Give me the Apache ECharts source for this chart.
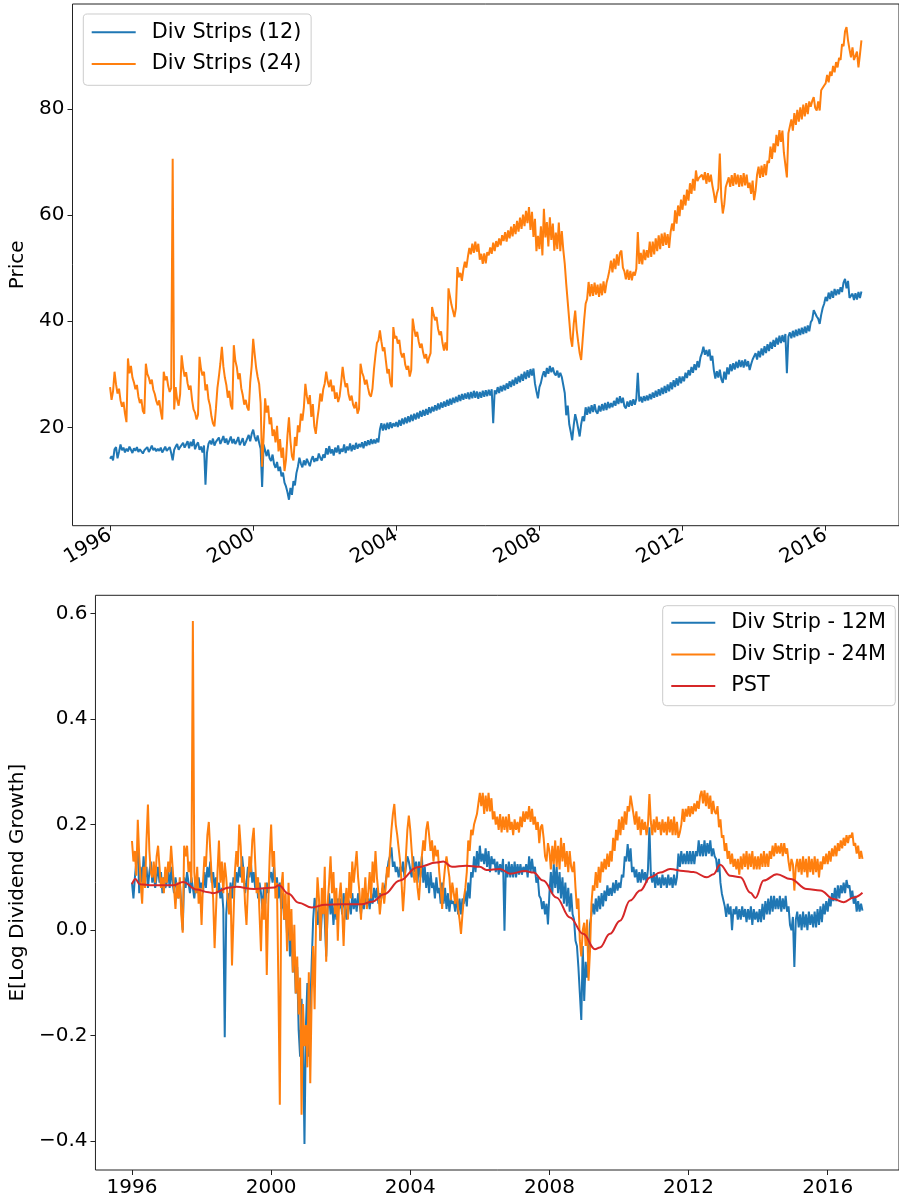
<!DOCTYPE html>
<html>
<head>
<meta charset="utf-8">
<script src="https://cdn.jsdelivr.net/npm/echarts@6/dist/echarts.min.js"></script>
<style>
html,body{margin:0;padding:0;background:#fff;}
#chart{width:899px;height:1203px;}
</style>
</head>
<body>
<div id="chart"></div>
<script>
// ---- DATA (semi-monthly readings, one row per calendar year starting 1996) ----
const startYear = 1996;
const yearTicks = [1996, 2000, 2004, 2008, 2012, 2016];
const priceTicks = [20, 40, 60, 80];
const growthTicks = [-0.4, -0.2, 0.0, 0.2, 0.4, 0.6];

const priceStrip12 = [
[14.1,14.6,13.8,15.9,16.3,14.2,15.4,16.8,15.7,16.2,15.3,16.0,15.5,16.4,15.8,15.2,16.1,15.6,16.3,15.4,15.9,16.2,15.1,15.7],
[15.8,16.3,15.4,15.9,16.6,15.7,16.1,15.5,16.0,15.6,16.2,15.3,15.8,16.4,15.6,15.9,16.3,15.2,13.8,15.8,16.4,16.9,15.8,16.3],
[16.5,17.1,16.2,16.8,17.4,16.1,17.3,16.5,17.8,15.9,16.7,17.2,15.8,16.4,15.3,16.6,9.2,15.2,16.9,17.5,16.8,17.9,16.6,17.3],
[17.2,18.1,16.9,17.6,18.4,17.1,17.9,16.8,17.5,18.3,17.0,17.8,16.9,17.4,18.2,16.7,17.3,18.0,16.6,17.2,17.9,18.6,17.4,18.8],
[19.6,18.2,17.4,18.5,17.1,16.0,8.8,16.8,15.7,14.6,15.8,14.2,13.7,14.9,13.1,12.4,13.5,11.8,12.6,10.8,11.5,9.6,8.9,7.8],
[6.4,8.6,7.3,9.9,9.1,11.4,12.6,14.3,13.2,12.5,13.8,12.9,14.1,13.4,12.7,13.9,14.6,13.5,14.2,13.7,15.1,14.3,13.8,14.9],
[14.3,16.1,14.9,16.5,15.1,15.9,14.7,16.2,15.3,16.6,15.0,16.0,15.4,16.8,15.2,16.4,15.7,17.0,15.5,16.7,15.8,17.1,16.0,16.9],
[16.3,17.2,16.1,17.4,16.5,17.6,16.7,17.8,16.9,17.7,17.0,17.9,17.2,19.6,20.8,19.4,20.7,19.5,20.9,19.7,21.0,19.9,20.8,20.2],
[21.0,20.1,21.4,20.3,21.7,20.6,21.9,20.8,22.1,21.0,22.4,21.2,22.6,21.5,22.8,21.7,23.1,22.0,23.3,22.2,23.5,22.4,23.8,22.7],
[23.9,23.0,24.2,23.2,24.5,23.4,24.7,23.7,24.9,23.9,25.2,24.1,25.4,24.3,25.6,24.6,25.8,24.8,26.1,25.0,26.3,25.2,26.4,25.4],
[26.6,25.3,26.7,25.5,26.9,25.6,26.8,25.4,26.7,25.6,26.9,25.8,27.0,25.9,27.1,26.0,27.2,20.8,27.0,26.3,27.6,26.5,27.8,26.8],
[28.0,27.0,28.3,27.3,28.7,27.6,29.0,27.9,29.4,28.2,29.7,28.5,30.1,28.8,30.5,29.1,30.8,29.4,31.0,29.8,31.1,28.3,26.8,25.5],
[27.6,28.4,29.7,30.6,29.5,31.2,30.1,31.6,30.4,31.3,30.2,29.8,30.7,29.4,30.3,29.5,29.8,26.5,22.3,24.1,20.6,19.2,17.6,20.4],
[22.5,21.3,19.8,18.3,20.6,22.1,21.2,23.8,22.4,23.9,22.6,24.2,22.9,24.4,23.0,22.6,24.1,23.0,24.4,23.2,24.6,23.3,24.8,23.6],
[24.6,23.8,25.0,24.1,25.6,24.4,25.9,24.6,25.6,24.0,23.6,24.9,23.9,25.1,24.1,25.3,24.3,25.4,30.3,24.9,25.8,24.7,25.9,25.0],
[26.0,25.1,26.3,25.3,26.6,25.6,26.9,25.8,27.2,26.0,27.5,26.3,27.8,26.5,28.1,26.8,28.5,27.2,28.9,27.6,29.3,27.9,29.6,28.3],
[29.6,28.7,30.3,29.3,30.8,29.8,31.4,30.3,31.9,30.8,32.5,31.3,33.2,34.0,35.2,33.7,34.6,33.4,34.7,32.6,33.5,30.8,29.2,30.6],
[29.4,30.9,29.1,28.4,30.5,29.0,31.3,30.0,31.9,30.6,32.1,30.9,32.4,31.2,32.7,31.4,32.6,31.3,32.8,31.5,32.5,30.8,31.9,32.8],
[32.5,34.0,32.8,34.4,33.2,34.9,33.6,35.3,34.0,35.7,34.4,36.1,34.8,36.5,35.2,36.9,35.6,37.3,35.9,37.4,36.1,37.6,30.2,37.1],
[37.9,36.8,38.2,37.0,38.4,37.2,38.6,37.4,38.8,37.6,39.0,37.8,39.2,38.1,39.8,40.3,42.1,42.4,40.9,40.5,39.5,41.2,42.5,43.3],
[44.6,43.8,45.4,44.2,45.7,44.4,46.1,44.9,46.0,45.1,46.4,45.5,47.3,48.0,46.2,47.6,44.4,44.2,45.2,44.0,45.3,44.1,45.5,44.4],
[45.6]
];

const priceStrip24 = [
[27.6,25.2,26.8,30.5,28.1,26.4,27.3,25.1,23.9,24.8,22.6,21.0,33.0,30.2,31.6,29.4,28.5,27.2,28.0,25.8,24.6,25.3,23.1,22.6],
[32.0,30.1,29.4,28.2,29.0,27.1,26.3,25.0,24.2,25.1,23.0,21.5,30.5,28.9,29.6,27.8,26.7,27.4,70.6,23.4,27.6,25.2,24.1,26.3],
[33.6,31.2,29.6,30.4,28.3,27.1,27.9,25.2,23.4,22.8,21.5,22.4,33.3,31.0,29.8,30.5,27.0,28.1,25.3,24.2,22.1,20.8,20.2,23.5],
[27.4,29.6,32.1,35.2,31.5,29.4,28.0,25.6,26.9,24.2,23.4,35.5,32.6,31.4,29.1,30.2,27.4,26.1,24.3,25.2,23.8,23.2,28.5,31.6],
[36.7,33.8,31.2,29.5,28.2,24.6,12.6,18.2,25.5,22.8,24.1,20.6,21.9,18.4,19.6,17.2,20.3,15.5,17.8,14.3,16.2,11.8,13.9,18.5],
[21.9,17.4,14.6,13.8,18.2,16.5,20.4,19.1,22.6,21.3,23.8,28.2,25.9,24.4,26.1,22.0,24.4,20.2,18.8,21.5,23.6,26.4,24.9,27.2],
[28.3,30.5,28.6,27.6,29.0,26.8,27.9,25.4,26.6,24.8,25.9,28.4,31.4,29.2,27.6,28.3,26.2,25.1,26.0,24.3,23.6,24.8,22.6,23.5],
[32.0,30.4,29.6,28.1,29.0,27.5,26.2,25.8,27.3,30.9,33.6,35.9,36.4,38.3,36.2,34.4,35.1,32.6,30.2,31.0,28.4,27.6,38.9,36.8],
[37.2,35.8,36.5,34.1,33.2,34.0,31.8,30.9,31.6,29.6,30.8,40.5,38.6,37.1,38.0,36.2,35.0,35.8,34.1,33.0,33.8,32.1,33.2,34.0],
[42.7,41.3,40.2,40.8,38.6,37.4,38.1,35.9,34.5,36.0,34.5,46.2,44.7,43.1,42.0,40.8,42.5,50.2,48.3,49.1,47.6,49.8,51.2,50.1],
[52.1,53.8,52.6,54.6,52.9,55.0,53.1,54.6,51.6,52.7,50.8,52.8,50.9,53.0,52.4,53.9,52.7,54.8,53.2,55.1,54.0,55.6,54.3,56.2],
[55.1,56.8,55.0,57.1,55.6,57.8,56.0,58.3,56.4,58.9,56.9,59.5,57.4,60.1,57.9,60.8,58.5,61.5,57.2,60.6,55.9,59.3,53.2,56.1],
[53.6,57.9,52.4,61.2,55.8,58.7,54.1,59.6,55.3,58.4,53.3,56.7,53.6,58.6,53.2,57.0,53.5,50.8,47.0,43.6,40.2,36.8,35.2,39.5],
[42.0,38.4,36.1,34.0,32.7,36.5,40.2,43.3,44.2,47.4,44.7,47.0,44.8,47.3,45.0,46.9,44.6,47.1,44.9,47.5,45.3,47.2,48.3,49.6],
[51.4,49.2,51.8,49.8,52.6,50.5,52.9,53.3,50.1,49.4,47.9,49.7,47.8,49.5,47.7,49.3,48.6,49.9,56.8,50.8,52.9,50.7,53.5,51.5],
[53.4,52.0,55.0,52.1,55.0,52.6,55.6,53.2,56.2,53.6,56.5,54.2,56.7,54.4,56.4,53.8,56.8,58.4,57.0,60.9,58.4,61.8,59.8,62.9],
[61.0,63.8,61.8,64.8,62.7,66.0,64.0,66.8,64.6,68.4,66.4,67.0,66.8,67.6,66.6,68.1,65.9,67.9,66.2,67.6,65.6,64.1,62.3,64.0],
[65.0,71.6,63.3,60.3,62.0,65.3,65.6,67.1,65.3,67.5,65.5,67.9,65.8,67.6,65.3,67.5,65.4,67.9,65.6,67.6,65.1,66.1,64.0,66.5],
[62.8,64.6,67.6,69.1,67.0,69.3,67.2,69.6,67.5,70.2,69.8,72.9,70.6,73.5,71.8,75.1,73.0,76.0,73.8,75.9,71.7,71.8,67.1,75.4],
[75.5,78.0,75.9,79.2,77.0,79.8,77.6,80.3,78.0,80.8,78.6,81.1,79.0,81.4,80.4,81.5,82.2,80.2,79.7,81.4,79.7,83.5,83.3,84.4],
[84.8,86.4,85.0,87.0,86.2,88.1,86.9,88.8,87.8,89.6,89.2,92.2,91.8,94.6,95.4,92.9,91.2,89.7,91.6,89.2,89.1,90.8,87.8,90.2],
[92.9]
];

const growthStrip12 = [
[0.09,0.06,0.10,0.13,0.157,0.07,0.12,0.09,0.14,0.10,0.12,0.08,0.11,0.13,0.09,0.11,0.08,0.10,0.12,0.09,0.11,0.07,0.10,0.08],
[0.09,0.11,0.08,0.12,0.09,0.07,0.10,0.08,0.06,0.09,0.05,0.00,0.10,0.08,0.11,0.09,0.07,0.10,0.08,0.06,0.09,0.07,0.10,0.08],
[0.09,0.07,0.11,0.08,0.12,0.10,0.13,0.09,0.11,0.08,0.10,0.07,0.09,0.06,0.08,0.04,-0.203,0.03,0.07,0.05,0.09,0.06,0.10,0.08],
[0.11,0.09,0.12,0.10,0.14,0.11,0.07,0.09,0.12,0.10,0.13,0.09,0.11,0.08,0.10,0.06,0.09,0.07,0.04,0.08,0.05,0.09,0.07,0.10],
[0.11,0.09,0.12,0.08,0.10,0.06,0.09,0.04,0.07,0.02,0.05,-0.01,0.02,-0.05,0.01,-0.08,-0.04,-0.12,-0.07,-0.19,-0.24,-0.13,-0.21,-0.405],
[-0.18,-0.10,-0.24,-0.15,-0.06,0.02,0.061,0.04,0.01,0.05,-0.02,0.03,0.06,0.02,-0.05,0.04,0.07,0.03,0.06,0.01,0.05,0.02,0.06,0.04],
[0.06,0.03,0.07,0.04,0.02,0.06,0.05,0.03,0.07,0.04,0.06,0.035,0.07,0.05,0.03,0.06,0.04,0.07,0.05,0.06,0.04,0.07,0.05,0.08],
[0.06,0.08,0.05,0.07,0.06,0.08,0.075,0.09,0.11,0.13,0.14,0.157,0.12,0.13,0.11,0.12,0.10,0.12,0.11,0.13,0.10,0.12,0.14,0.13],
[0.13,0.10,0.14,0.11,0.13,0.09,0.13,0.10,0.14,0.09,0.12,0.08,0.11,0.07,0.11,0.08,0.09,0.06,0.10,0.07,0.08,0.05,0.09,0.05],
[0.08,0.04,0.07,0.035,0.06,0.05,0.055,0.035,0.07,0.03,0.06,0.03,0.06,0.05,0.075,0.045,0.09,0.06,0.11,0.10,0.14,0.11,0.15,0.12],
[0.16,0.13,0.145,0.125,0.155,0.12,0.15,0.11,0.14,0.125,0.135,0.11,0.13,0.105,0.125,0.11,0.135,-0.001,0.125,0.10,0.13,0.10,0.125,0.10],
[0.13,0.10,0.125,0.105,0.125,0.105,0.12,0.11,0.125,0.10,0.14,0.11,0.135,0.11,0.12,0.09,0.10,0.065,0.06,0.04,0.055,0.03,0.05,0.011],
[0.07,0.11,0.07,0.125,0.08,0.12,0.07,0.11,0.06,0.10,0.05,0.09,0.045,0.08,0.035,0.07,0.03,0.02,-0.02,-0.03,-0.07,-0.12,-0.17,-0.03],
[-0.134,-0.06,-0.09,-0.05,0.012,0.03,0.05,0.03,0.06,0.035,0.065,0.04,0.07,0.045,0.075,0.055,0.085,0.065,0.08,0.065,0.09,0.07,0.095,0.075],
[0.09,0.08,0.105,0.10,0.14,0.13,0.163,0.13,0.155,0.11,0.12,0.10,0.115,0.09,0.11,0.09,0.115,0.095,0.11,0.09,0.115,0.195,0.105,0.09],
[0.11,0.08,0.105,0.085,0.10,0.08,0.105,0.085,0.10,0.08,0.105,0.085,0.10,0.08,0.105,0.085,0.10,0.145,0.12,0.15,0.125,0.145,0.125,0.15],
[0.125,0.15,0.125,0.15,0.125,0.15,0.14,0.17,0.14,0.163,0.14,0.17,0.14,0.165,0.145,0.17,0.14,0.155,0.14,0.135,0.11,0.135,0.09,0.069],
[0.069,0.045,0.025,0.05,0.03,0.045,0.0,0.04,0.03,0.045,0.02,0.04,0.02,0.045,0.025,0.04,0.015,0.04,0.02,0.045,0.01,0.04,0.02,0.035],
[0.015,0.04,0.015,0.05,0.02,0.055,0.03,0.06,0.03,0.065,0.035,0.065,0.04,0.06,0.04,0.065,0.035,0.06,0.04,0.065,0.035,0.045,0.01,0.0],
[0.025,-0.07,0.02,0.035,0.005,0.03,0.0,0.035,0.005,0.03,0.0,0.035,0.01,0.03,0.005,0.035,0.005,0.04,0.01,0.045,0.015,0.05,0.03,0.055],
[0.035,0.06,0.045,0.07,0.055,0.08,0.055,0.085,0.06,0.085,0.07,0.09,0.07,0.095,0.08,0.085,0.06,0.075,0.05,0.065,0.035,0.055,0.035,0.05],
[0.037]
];

const growthStrip24 = [
[0.169,0.13,0.15,0.103,0.209,0.14,0.09,0.05,0.12,0.08,0.17,0.238,0.15,0.11,0.10,0.13,0.09,0.14,0.16,0.12,0.08,0.10,0.07,0.12],
[0.09,0.13,0.11,0.16,0.12,0.08,0.04,0.09,0.06,0.10,0.03,-0.005,0.16,0.14,0.16,0.11,0.13,0.09,0.586,0.11,0.07,0.12,0.05,0.08],
[0.01,0.09,0.14,0.12,0.18,0.205,0.15,0.10,0.06,-0.034,0.04,0.11,0.17,0.09,0.13,0.07,0.128,0.10,0.06,0.03,0.08,-0.067,0.02,0.11],
[0.15,0.12,0.20,0.16,0.09,0.12,0.05,0.01,0.08,0.14,0.11,0.17,0.194,0.13,0.07,0.10,0.03,-0.04,0.06,0.02,0.09,-0.085,0.05,0.14],
[0.20,0.12,0.15,0.06,0.09,-0.10,-0.331,0.08,0.11,0.02,0.07,-0.04,0.09,-0.02,0.04,-0.08,0.01,-0.12,-0.05,-0.16,-0.09,-0.35,-0.14,-0.22],
[-0.18,-0.26,-0.08,-0.29,-0.12,-0.03,-0.15,0.02,0.10,0.06,-0.02,0.08,0.03,0.12,-0.06,0.05,0.09,0.14,0.07,0.11,0.03,0.08,-0.02,0.06],
[0.09,0.04,-0.03,0.05,0.08,0.02,0.11,0.06,0.13,0.09,0.12,0.15,0.10,0.07,0.02,0.08,0.05,0.10,0.04,0.07,0.11,0.06,0.13,0.09],
[0.15,0.10,0.07,0.03,0.06,0.09,0.05,0.08,0.12,0.10,0.15,0.19,0.22,0.239,0.20,0.18,0.177,0.13,0.09,0.036,0.08,0.14,0.19,0.217],
[0.19,0.15,0.113,0.09,0.12,0.08,0.057,0.10,0.14,0.17,0.15,0.19,0.206,0.18,0.15,0.17,0.13,0.16,0.14,0.152,0.11,0.08,0.04,0.09],
[0.12,0.14,0.14,0.10,0.057,0.09,0.07,0.05,0.08,0.04,0.02,-0.007,0.03,0.06,0.08,0.11,0.17,0.15,0.19,0.18,0.20,0.21,0.22,0.24],
[0.26,0.235,0.26,0.22,0.255,0.225,0.26,0.225,0.25,0.21,0.225,0.20,0.215,0.19,0.22,0.185,0.215,0.19,0.215,0.185,0.22,0.19,0.205,0.18],
[0.21,0.19,0.205,0.185,0.215,0.195,0.225,0.205,0.225,0.21,0.235,0.205,0.23,0.20,0.215,0.19,0.205,0.165,0.195,0.20,0.175,0.14,0.13,0.165],
[0.15,0.115,0.16,0.125,0.17,0.12,0.16,0.115,0.175,0.13,0.165,0.12,0.15,0.11,0.15,0.12,0.11,0.13,0.08,0.04,0.06,-0.02,-0.05,0.00],
[0.014,-0.03,0.02,-0.096,-0.04,0.05,0.085,0.075,0.11,0.08,0.12,0.09,0.13,0.11,0.135,0.115,0.145,0.12,0.15,0.13,0.175,0.15,0.19,0.17],
[0.21,0.18,0.215,0.19,0.225,0.20,0.235,0.225,0.255,0.258,0.22,0.20,0.225,0.19,0.215,0.18,0.21,0.19,0.205,0.18,0.20,0.258,0.205,0.18],
[0.21,0.185,0.215,0.19,0.205,0.18,0.21,0.185,0.205,0.18,0.215,0.185,0.21,0.18,0.215,0.18,0.205,0.175,0.185,0.20,0.23,0.205,0.23,0.215],
[0.235,0.215,0.235,0.22,0.24,0.225,0.245,0.23,0.255,0.264,0.24,0.265,0.235,0.26,0.23,0.255,0.22,0.245,0.225,0.22,0.235,0.195,0.21,0.175],
[0.18,0.15,0.165,0.135,0.15,0.125,0.145,0.12,0.135,0.115,0.135,0.105,0.14,0.115,0.145,0.12,0.15,0.115,0.145,0.12,0.15,0.115,0.14,0.115],
[0.14,0.115,0.145,0.12,0.15,0.12,0.145,0.12,0.15,0.135,0.16,0.14,0.165,0.145,0.16,0.145,0.165,0.14,0.165,0.145,0.155,0.13,0.112,0.135],
[0.125,0.075,0.12,0.135,0.11,0.135,0.105,0.14,0.11,0.135,0.10,0.14,0.11,0.135,0.105,0.14,0.11,0.135,0.10,0.13,0.115,0.14,0.125,0.145],
[0.125,0.15,0.13,0.155,0.14,0.16,0.14,0.165,0.15,0.17,0.155,0.175,0.16,0.18,0.165,0.18,0.175,0.185,0.16,0.165,0.145,0.16,0.135,0.15],
[0.135]
];

const pstDates = [1996.0,1996.1,1996.22,1996.6,1997.2,1997.47,1997.85,1998.2,1998.32,1998.8,1999.0,1999.5,2000.1,2000.22,2000.5,2000.79,2001.17,2001.55,2002.0,2002.6,2002.9,2003.25,2003.7,2004.2,2004.76,2004.95,2005.2,2005.6,2006.0,2006.19,2006.58,2006.87,2007.3,2007.54,2007.82,2008.2,2008.59,2008.97,2009.31,2009.45,2009.74,2010.03,2010.32,2010.61,2010.9,2011.18,2011.47,2011.85,2012.14,2012.53,2012.72,2012.91,2013.2,2013.49,2013.78,2013.92,2014.16,2014.54,2014.93,2015.4,2015.79,2016.17,2016.46,2016.75,2017.0];
const pstValues = [0.087,0.097,0.087,0.085,0.085,0.091,0.077,0.072,0.070,0.081,0.082,0.078,0.081,0.085,0.069,0.052,0.043,0.048,0.049,0.049,0.054,0.068,0.094,0.119,0.128,0.130,0.120,0.122,0.120,0.114,0.116,0.107,0.112,0.109,0.094,0.062,0.024,-0.007,-0.036,-0.033,-0.007,0.018,0.056,0.075,0.100,0.109,0.116,0.112,0.110,0.100,0.106,0.124,0.103,0.100,0.071,0.061,0.094,0.106,0.097,0.078,0.075,0.059,0.053,0.062,0.071];

// ---- build series points ----
function yearRowsToPoints(rows) {
  const out = [];
  rows.forEach((row, k) => row.forEach((v, j) => out.push([startYear + k + j / row.length, v])));
  return out;
}
const pstPoints = pstDates.map((d, i) => [d, pstValues[i]]);

const FONT = 'DejaVu Sans';
const C_BLUE = '#1f77b4', C_ORANGE = '#ff7f0e', C_RED = '#d62728';
const minus = v => (v < 0 ? '\u2212' : '') + Math.abs(v).toFixed(1);

const chart = echarts.init(document.getElementById('chart'), null, {renderer: 'canvas'});

function xAxisCfg(gridIndex, rotate) {
  return {
    type: 'value', gridIndex, min: 1994.95, max: 2018.05, position: 'bottom',
    axisLine: {show: false, onZero: false},
    splitLine: {show: false},
    axisTick: {show: true, length: 5, customValues: yearTicks, lineStyle: {color: '#222', width: 1}},
    axisLabel: {customValues: yearTicks, rotate, margin: 8, fontFamily: FONT, fontSize: 20, color: '#000',
                formatter: v => String(Math.round(v))}
  };
}
function lineSeries(name, data, color, xi, yi, extra) {
  return Object.assign({
    name, type: 'line', xAxisIndex: xi, yAxisIndex: yi, data,
    symbol: 'none', showSymbol: false, animation: false,
    lineStyle: {color, width: 2}, itemStyle: {color}, clip: true
  }, extra || {});
}
const legendBase = {
  orient: 'vertical', itemWidth: 44, itemHeight: 14, itemGap: 7.7,
  itemStyle: {opacity: 0},
  backgroundColor: 'rgba(255,255,255,0.8)', borderColor: '#cccccc', borderWidth: 1, borderRadius: 4,
  textStyle: {fontFamily: FONT, fontSize: 20.8, color: '#000', lineHeight: 24, padding: [0, 0, 0, 11]},
  selectedMode: false
};

chart.setOption({
  animation: false,
  backgroundColor: '#fff',
  grid: [
    {left: 72.5, right: -7, top: 4, bottom: 677.3, show: true, borderColor: '#222', borderWidth: 1, containLabel: false},
    {left: 94.5, right: -8.7, top: 595.3, bottom: 33, show: true, borderColor: '#222', borderWidth: 1, containLabel: false}
  ],
  xAxis: [xAxisCfg(0, 30), xAxisCfg(1, 0)],
  yAxis: [
    {type: 'value', gridIndex: 0, min: 1.5, max: 99.75, position: 'left',
     name: 'Price', nameLocation: 'middle', nameGap: 40, nameRotate: 90,
     nameTextStyle: {fontFamily: FONT, fontSize: 20, color: '#000'},
     axisLine: {show: false, onZero: false}, splitLine: {show: false},
     axisTick: {show: true, length: 5, customValues: priceTicks, lineStyle: {color: '#222', width: 1}},
     axisLabel: {customValues: priceTicks, margin: 8, fontFamily: FONT, fontSize: 20, color: '#000',
                 formatter: v => String(Math.round(v))}},
    {type: 'value', gridIndex: 1, min: -0.4545, max: 0.6345, position: 'left',
     name: 'E[Log Dividend Growth]', nameLocation: 'middle', nameGap: 63, nameRotate: 90,
     nameTextStyle: {fontFamily: FONT, fontSize: 20, color: '#000'},
     axisLine: {show: false, onZero: false}, splitLine: {show: false},
     axisTick: {show: true, length: 5, customValues: growthTicks, lineStyle: {color: '#222', width: 1}},
     axisLabel: {customValues: growthTicks, margin: 8, fontFamily: FONT, fontSize: 20, color: '#000',
                 formatter: minus}}
  ],
  legend: [
    Object.assign({}, legendBase, {data: ['Div Strips (12)', 'Div Strips (24)'], left: 83.3, top: 14,
      padding: [6.3, 9.7, 9.3, 7.4]}),
    Object.assign({}, legendBase, {data: ['Div Strip - 12M', 'Div Strip - 24M', 'PST'], right: 3.7, top: 605.7,
      padding: [5, 9.3, 7.6, 7.6]})
  ],
  series: [
    lineSeries('Div Strips (12)', yearRowsToPoints(priceStrip12), C_BLUE, 0, 0),
    lineSeries('Div Strips (24)', yearRowsToPoints(priceStrip24), C_ORANGE, 0, 0),
    lineSeries('Div Strip - 12M', yearRowsToPoints(growthStrip12), C_BLUE, 1, 1),
    lineSeries('Div Strip - 24M', yearRowsToPoints(growthStrip24), C_ORANGE, 1, 1),
    lineSeries('PST', pstPoints, C_RED, 1, 1, {smooth: 0.4, smoothMonotone: 'x'})
  ]
});
</script>
</body>
</html>
